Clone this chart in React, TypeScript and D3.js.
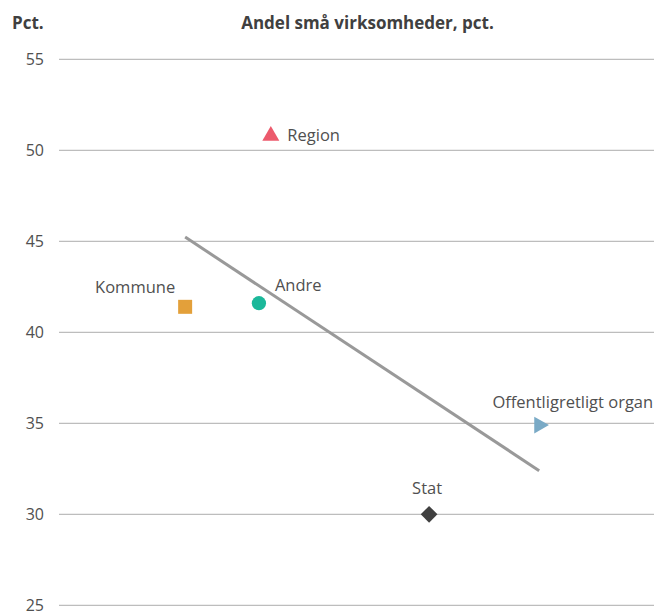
import React from "react";
import * as d3 from "d3";

const categories = ["Kommune", "Andre", "Region", "Stat", "Offentligretligt organ"];
const xValues = [21.2, 33.6, 35.6, 62.2, 80.7];
const yValues = [41.4, 41.6, 50.8, 30.0, 34.9];
const yTicks = [25, 30, 35, 40, 45, 50, 55];
const yAxisTitle = "Pct.";
const chartTitle = "Andel små virksomheder, pct.";

const W = 656;
const H = 615;
const M = { left: 59, right: 2, top: 59.3, bottom: 9.7 };

const styles: Record<string, any> = {
  Kommune: { color: "#E3A03A", shape: "square", anchor: "middle", dx: -50, dy: -14 },
  Andre: { color: "#1BB89A", shape: "circle", anchor: "start", dx: 16, dy: -12 },
  Region: { color: "#EC5A6C", shape: "triangle", anchor: "start", dx: 16.5, dy: 5 },
  Stat: { color: "#404040", shape: "diamond", anchor: "middle", dx: -2, dy: -20.5 },
  "Offentligretligt organ": { color: "#7AAAC6", shape: "triangleRight", anchor: "end", dx: 114, dy: -17.5 },
};

function symbolPath(shape: string) {
  switch (shape) {
    case "square":
      return { d: d3.symbol(d3.symbolSquare, 196)()!, rot: 0 };
    case "circle":
      return { d: d3.symbol(d3.symbolCircle, 160)()!, rot: 0 };
    case "triangle":
      return { d: d3.symbol(d3.symbolTriangle, 125)()!, rot: 0 };
    case "triangleRight":
      return { d: d3.symbol(d3.symbolTriangle, 125)()!, rot: 90 };
    case "diamond":
      return { d: d3.symbol(d3.symbolSquare, 140)()!, rot: 45 };
  }
  return { d: d3.symbol(d3.symbolCircle, 100)()!, rot: 0 };
}

export default function App() {
  const x = d3.scaleLinear().domain([0, 100]).range([M.left, W - M.right]);
  const y = d3.scaleLinear().domain([25, 55]).range([H - M.bottom, M.top]);

  // linear regression trend line
  const mx = d3.mean(xValues)!;
  const my = d3.mean(yValues)!;
  let sxy = 0, sxx = 0;
  xValues.forEach((v, i) => {
    sxy += (v - mx) * (yValues[i] - my);
    sxx += (v - mx) * (v - mx);
  });
  const slope = sxy / sxx;
  const intercept = my - slope * mx;
  const [x0, x1] = d3.extent(xValues) as [number, number];
  const trend = d3.line<number>().x((d) => x(d)).y((d) => y(intercept + slope * d))([x0, x1])!;

  const font = "'Open Sans', 'Noto Sans', sans-serif";

  return (
    <div style={{ position: "absolute", left: 0, top: 0 }}>
      <svg width={W} height={H} style={{ display: "block", background: "#fff" }} fontFamily={font}>
        <text x={12} y={29} fontSize={17} fontWeight="bold" fill="#404040">{yAxisTitle}</text>
        <text x={367.5} y={29} fontSize={17} fontWeight="bold" fill="#404040" textAnchor="middle">{chartTitle}</text>
        {yTicks.map((t) => (
          <g key={t}>
            <line x1={M.left} x2={W - M.right} y1={y(t)} y2={y(t)} stroke="#bdbdbd" strokeWidth={1.2} />
            <text x={44} y={y(t)} dy="0.36em" fontSize={16} fill="#505050" textAnchor="end">{t}</text>
          </g>
        ))}
        <path d={trend} stroke="#999999" strokeWidth={3} fill="none" />
        {categories.map((c, i) => {
          const s = styles[c];
          const sp = symbolPath(s.shape);
          const cx = x(xValues[i]);
          const cy = y(yValues[i]);
          return (
            <g key={c}>
              <path d={sp.d} fill={s.color} transform={`translate(${cx},${cy}) rotate(${sp.rot})`} />
              <text x={cx + s.dx} y={cy + s.dy} fontSize={16.5} fill="#505050" textAnchor={s.anchor}>{c}</text>
            </g>
          );
        })}
      </svg>
    </div>
  );
}
